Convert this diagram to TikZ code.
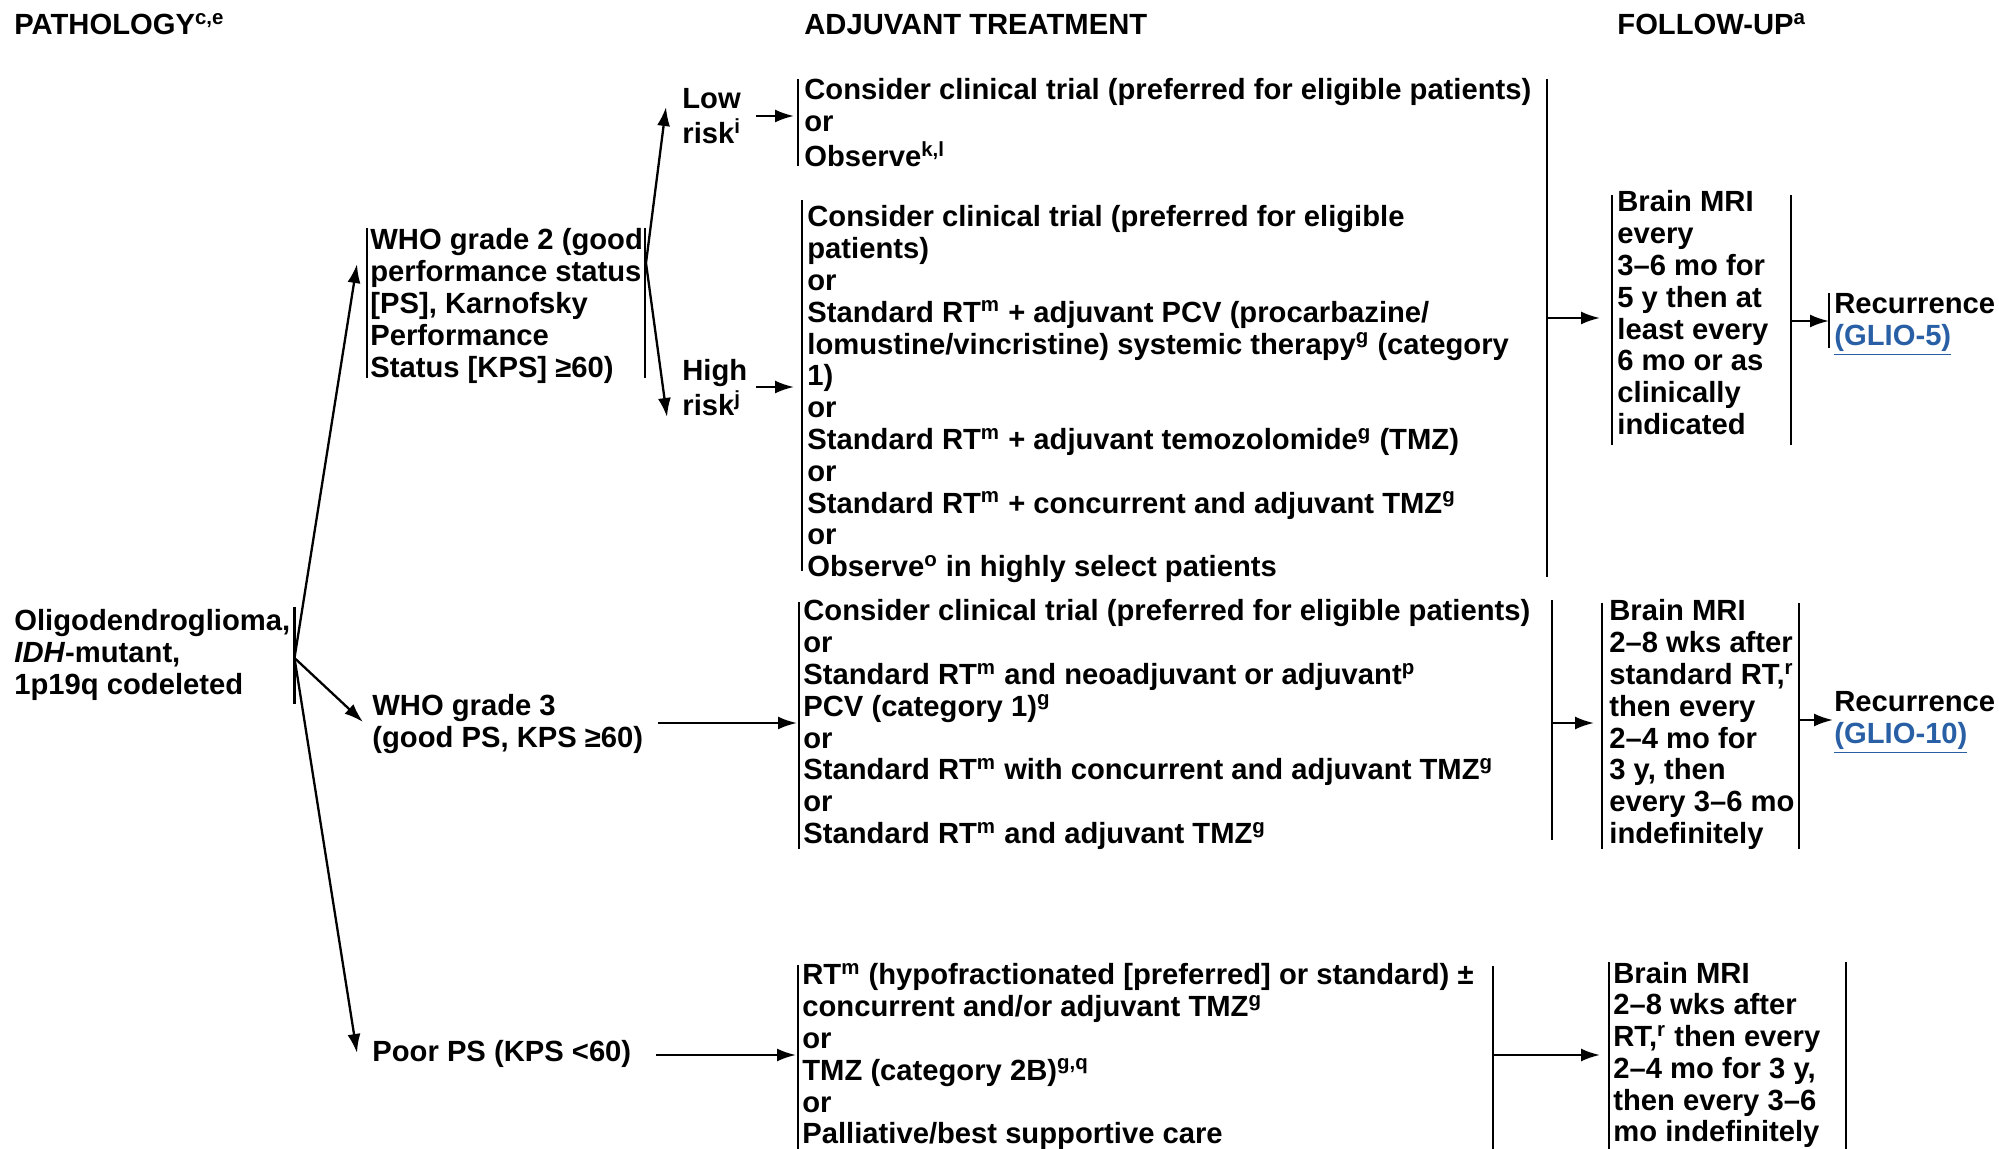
\documentclass[tikz,border=0pt]{standalone}
\usepackage{fontspec}
\setmainfont{Liberation Sans}
\usetikzlibrary{arrows.meta}
\definecolor{linkblue}{RGB}{40,95,165}
\newcommand{\tsup}[1]{\textsuperscript{#1}}
\newcommand{\txtblock}[1]{\begin{tabular}[t]{@{}l@{}}#1\end{tabular}}
\newcommand{\glink}[1]{\textcolor{linkblue}{\underline{#1}}}

\begin{document}
\begin{tikzpicture}[x=0.5pt,y=-0.5pt,
  every node/.style={inner sep=0pt, anchor=base west,
    font=\fontsize{14.6}{15.9}\selectfont\bfseries},
  bar/.style={line width=1.2pt},
  arr/.style={line width=1.15pt, -{Latex[length=9.5pt,width=6.5pt]}},
]
\useasboundingbox (0,0) rectangle (1999,1149);

% column headings
\node (hpath) at (14,35) {PATHOLOGY\tsup{c,e}};
\node (hadj)  at (804,35) {ADJUVANT TREATMENT};
\node (hfu)   at (1617,35) {FOLLOW-UP\tsup{a}};

% pathology
\node (root) at (14,631) {\txtblock{Oligodendroglioma,\\ \textit{IDH}-mutant,\\ 1p19q codeleted}};
\coordinate (rootbar-t) at (294.5,607);
\coordinate (rootbar-b) at (294.5,704);
\draw[bar] (rootbar-t) -- (rootbar-b);
\coordinate (rootfork) at (294.5,658);

% WHO grade 2
\node (g2) at (370,250) {\txtblock{WHO grade 2 (good\\ performance status\\ {[PS]}, Karnofsky\\ Performance\\ Status [KPS] ≥60)}};
\coordinate (g2l-t) at (367,228); \coordinate (g2l-b) at (367,378);
\coordinate (g2r-t) at (645,228); \coordinate (g2r-b) at (645,378);
\draw[bar] (g2l-t) -- (g2l-b);
\draw[bar] (g2r-t) -- (g2r-b);
\coordinate (g2in) at (357,264);
\coordinate (g2fork) at (646,263);

% risk groups
\node (low)  at (682,109) {\txtblock{Low\\ risk\tsup{i}}};
\node (high) at (682,381) {\txtblock{High\\ risk\tsup{j}}};
\coordinate (lowin)   at (666,107);
\coordinate (highin)  at (667,417);
\coordinate (lowout)  at (756,116);
\coordinate (highout) at (756,387);

% low-risk treatment
\node (tlow) at (804,100) {\txtblock{Consider clinical trial (preferred for eligible patients)\\ or\\ Observe\tsup{k,l}}};
\coordinate (tlow-t) at (798,79); \coordinate (tlow-b) at (798,166);
\draw[bar] (tlow-t) -- (tlow-b);
\coordinate (tlowin) at (794,116);

% high-risk treatment
\node (thigh) at (807,227) {\txtblock{Consider clinical trial (preferred for eligible\\ patients)\\ or\\ Standard RT\tsup{m} + adjuvant PCV (procarbazine/\\ lomustine/vincristine) systemic therapy\tsup{g} (category\\ 1)\\ or\\ Standard RT\tsup{m} + adjuvant temozolomide\tsup{g} (TMZ)\\ or\\ Standard RT\tsup{m} + concurrent and adjuvant TMZ\tsup{g}\\ or\\ Observe\tsup{o} in highly select patients}};
\coordinate (thigh-t) at (802,200); \coordinate (thigh-b) at (802,571);
\draw[bar] (thigh-t) -- (thigh-b);
\coordinate (thighin) at (794,387);

% common bracket of the grade 2 treatments
\coordinate (big-t) at (1547,79); \coordinate (big-b) at (1547,577);
\draw[bar] (big-t) -- (big-b);
\coordinate (bigout) at (1547,318);

% follow-up, grade 2
\node (fu1) at (1617,212) {\txtblock{Brain MRI\\ every\\ 3–6 mo for\\ 5 y then at\\ least every\\ 6 mo or as\\ clinically\\ indicated}};
\coordinate (fu1l-t) at (1612,195); \coordinate (fu1l-b) at (1612,445);
\coordinate (fu1r-t) at (1791,195); \coordinate (fu1r-b) at (1791,445);
\draw[bar] (fu1l-t) -- (fu1l-b);
\draw[bar] (fu1r-t) -- (fu1r-b);
\coordinate (fu1in)  at (1600,318);
\coordinate (fu1out) at (1791,321);

\node (rec1) at (1834,314) {\txtblock{Recurrence\\ \glink{(GLIO-5)}}};
\coordinate (rec1-t) at (1829,293); \coordinate (rec1-b) at (1829,348);
\draw[bar] (rec1-t) -- (rec1-b);
\coordinate (rec1in) at (1829,321);

% WHO grade 3
\node (g3) at (372,716) {\txtblock{WHO grade 3\\ (good PS, KPS ≥60)}};
\coordinate (g3in)  at (363,722);
\coordinate (g3out) at (658,723);

\node (t3) at (803,621) {\txtblock{Consider clinical trial (preferred for eligible patients)\\ or\\ Standard RT\tsup{m} and neoadjuvant or adjuvant\tsup{p}\\ PCV (category 1)\tsup{g}\\ or\\ Standard RT\tsup{m} with concurrent and adjuvant TMZ\tsup{g}\\ or\\ Standard RT\tsup{m} and adjuvant TMZ\tsup{g}}};
\coordinate (t3l-t) at (799,602); \coordinate (t3l-b) at (799,849);
\coordinate (t3r-t) at (1552,600); \coordinate (t3r-b) at (1552,840);
\draw[bar] (t3l-t) -- (t3l-b);
\draw[bar] (t3r-t) -- (t3r-b);
\coordinate (t3in)  at (797,723);
\coordinate (t3out) at (1552,723);

\node (fu2) at (1609,621) {\txtblock{Brain MRI\\ 2–8 wks after\\ standard RT,\tsup{r}\\ then every\\ 2–4 mo for\\ 3 y, then\\ every 3–6 mo\\ indefinitely}};
\coordinate (fu2l-t) at (1602,603); \coordinate (fu2l-b) at (1602,849);
\coordinate (fu2r-t) at (1799,603); \coordinate (fu2r-b) at (1799,849);
\draw[bar] (fu2l-t) -- (fu2l-b);
\draw[bar] (fu2r-t) -- (fu2r-b);
\coordinate (fu2in)  at (1594,723);
\coordinate (fu2out) at (1799,720);

\node (rec2) at (1834,712) {\txtblock{Recurrence\\ \glink{(GLIO-10)}}};
\coordinate (rec2in) at (1833,720);

% poor performance status
\node (poor) at (372,1061) {Poor PS (KPS <60)};
\coordinate (poorin)  at (357,1053);
\coordinate (poorout) at (656,1055);

\node (t4) at (802,985) {\txtblock{RT\tsup{m} (hypofractionated [preferred] or standard) ±\\ concurrent and/or adjuvant TMZ\tsup{g}\\ or\\ TMZ (category 2B)\tsup{g,q}\\ or\\ Palliative/best supportive care}};
\coordinate (t4l-t) at (798,965);  \coordinate (t4l-b) at (798,1160);
\coordinate (t4r-t) at (1493,966); \coordinate (t4r-b) at (1493,1160);
\draw[bar] (t4l-t) -- (t4l-b);
\draw[bar] (t4r-t) -- (t4r-b);
\coordinate (t4in)  at (796,1055);
\coordinate (t4out) at (1493,1055);

\node (fu3) at (1613,983) {\txtblock{Brain MRI\\ 2–8 wks after\\ RT,\tsup{r} then every\\ 2–4 mo for 3 y,\\ then every 3–6\\ mo indefinitely}};
\coordinate (fu3l-t) at (1609,962); \coordinate (fu3l-b) at (1609,1160);
\coordinate (fu3r-t) at (1846,962); \coordinate (fu3r-b) at (1846,1160);
\draw[bar] (fu3l-t) -- (fu3l-b);
\draw[bar] (fu3r-t) -- (fu3r-b);
\coordinate (fu3in) at (1600,1055);

% connectors
\draw[arr] (rootfork) -- (g2in);
\draw[arr] (rootfork) -- (g3in);
\draw[arr] (rootfork) -- (poorin);
\draw[arr] (g2fork) -- (lowin);
\draw[arr] (g2fork) -- (highin);
\draw[arr] (lowout) -- (tlowin);
\draw[arr] (highout) -- (thighin);
\draw[arr] (bigout) -- (fu1in);
\draw[arr] (fu1out) -- (rec1in);
\draw[arr] (g3out) -- (t3in);
\draw[arr] (t3out) -- (fu2in);
\draw[arr] (fu2out) -- (rec2in);
\draw[arr] (poorout) -- (t4in);
\draw[arr] (t4out) -- (fu3in);
\end{tikzpicture}
\end{document}
